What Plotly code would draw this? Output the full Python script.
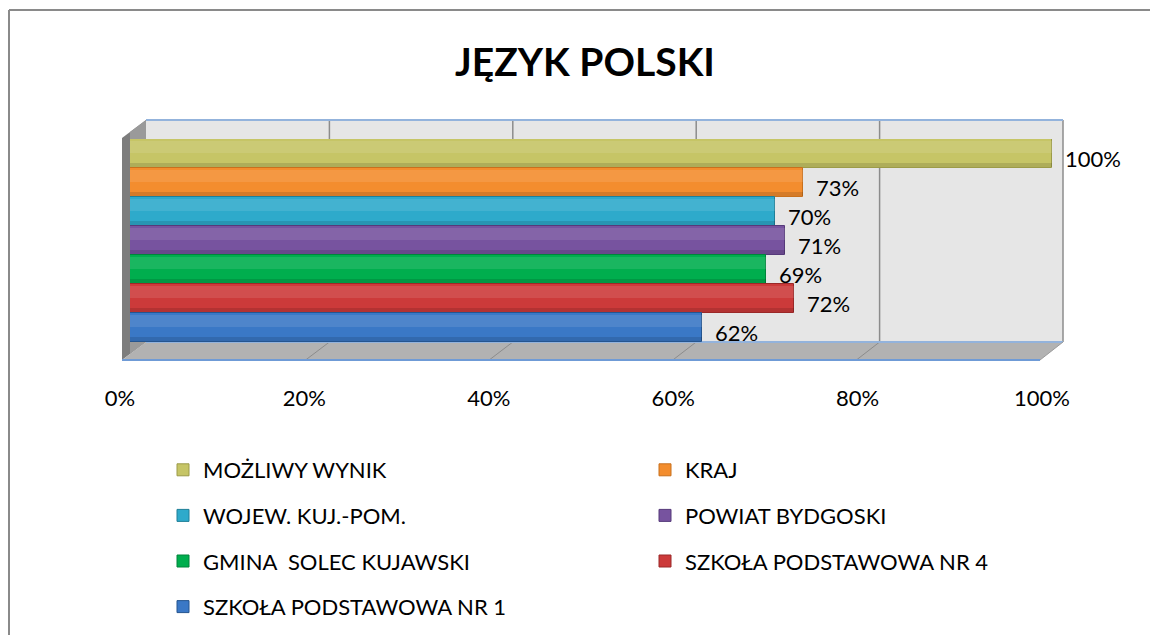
import plotly.graph_objects as go

W, H = 1158, 635
OFF = 8                      # page body margin around the figure
FW, FH = W - OFF, H - OFF    # figure size that fits the window

# ---- data ----
series = ["MOŻLIWY WYNIK", "KRAJ", "WOJEW. KUJ.-POM.", "POWIAT BYDGOSKI",
          "GMINA  SOLEC KUJAWSKI", "SZKOŁA PODSTAWOWA NR 4", "SZKOŁA PODSTAWOWA NR 1"]
values = [100, 73, 70, 71, 69, 72, 62]
bar_colors = ["#c6c566", "#f38d2e", "#2eaacb", "#77539f", "#00ae4e", "#cc3a3a", "#3a78c6"]
edge_colors = ["#9c9b48", "#c8701d", "#1f7f98", "#563a7a", "#00843b", "#9a2828", "#25558f"]
tick_vals = [0, 20, 40, 60, 80, 100]
tick_text = ["0%", "20%", "40%", "60%", "80%", "100%"]
title_text = "JĘZYK POLSKI"

FONT = "Lato"


def fx(px):
    return (px - OFF) / FW


def fy(py):
    return 1 - (py - OFF) / FH


fig = go.Figure()

left_col = [0, 2, 4, 6]
for i, (name, v) in enumerate(zip(series, values)):
    fig.add_trace(go.Bar(
        x=[v], y=[name], orientation="h", name=name,
        marker=dict(color=bar_colors[i], line=dict(color=edge_colors[i], width=1)),
        legendgroup=f"g{i}",
        legend="legend" if i in left_col else "legend2",
        hoverinfo="skip",
    ))
# soft cylinder-like shading: light upper part, darker lower edge
for i, (name, v) in enumerate(zip(series, values)):
    fig.add_trace(go.Bar(x=[v], y=[name], orientation="h", width=0.42, offset=0.02,
                         marker=dict(color="rgba(255,255,255,0.10)", line=dict(width=0)),
                         showlegend=False, hoverinfo="skip"))
    fig.add_trace(go.Bar(x=[v], y=[name], orientation="h", width=0.16, offset=-0.48,
                         marker=dict(color="rgba(0,0,0,0.12)", line=dict(width=0)),
                         showlegend=False, hoverinfo="skip"))

# invisible helper so that the tick-label axis is drawn
fig.add_trace(go.Scatter(x=[0], y=[series[0]], xaxis="x2", yaxis="y", mode="markers",
                         marker=dict(opacity=0, size=1), showlegend=False, hoverinfo="skip"))

# data labels
for i, (name, v) in enumerate(zip(series, values)):
    fig.add_annotation(x=v, y=name, xref="x", yref="y", text=f"{v}%", showarrow=False,
                       xanchor="left", yanchor="middle", xshift=11, yshift=-5,
                       font=dict(family=FONT, size=22, color="#000000"))

# ---- 3D frame shapes ----
back_l, back_r, back_t, back_b = 146, 1063, 120, 342
front_l, front_r, front_b = 122, 1040, 360
side_top_front = 138

shapes = []
# outer border (top and left edges visible, rest runs off the picture)
shapes.append(dict(type="line", xref="paper", yref="paper", x0=fx(9), x1=1, y0=fy(10), y1=fy(10),
                   line=dict(color="#8a8a8a", width=2), layer="below"))
shapes.append(dict(type="line", xref="paper", yref="paper", x0=fx(9), x1=fx(9), y0=fy(10), y1=0,
                   line=dict(color="#8a8a8a", width=2), layer="below"))
# back wall
shapes.append(dict(type="rect", xref="paper", yref="paper", x0=fx(back_l), x1=fx(back_r), y0=fy(back_b), y1=fy(back_t),
                   line=dict(width=0), fillcolor="#e6e6e6", layer="below"))
# side wall
shapes.append(dict(type="path", xref="paper", yref="paper",
                   path=f"M{fx(front_l)},{fy(side_top_front)} L{fx(back_l)},{fy(back_t)} L{fx(back_l)},{fy(back_b)} L{fx(front_l)},{fy(front_b)} Z",
                   line=dict(width=0), fillcolor="#7d7d7d", layer="below"))
shapes.append(dict(type="path", xref="paper", yref="paper",
                   path=f"M{fx(front_l + 8)},{fy(side_top_front - 6)} L{fx(back_l)},{fy(back_t)} L{fx(back_l)},{fy(back_b)} L{fx(front_l + 8)},{fy(front_b - 6)} Z",
                   line=dict(width=0), fillcolor="#9a9a9a", layer="below"))
# floor
shapes.append(dict(type="path", xref="paper", yref="paper",
                   path=f"M{fx(front_l)},{fy(front_b)} L{fx(back_l)},{fy(back_b)} L{fx(back_r)},{fy(back_b)} L{fx(front_r)},{fy(front_b)} Z",
                   line=dict(width=0), fillcolor="#b2b2b2", layer="below"))
# back-wall grid lines and floor diagonals, following the tick values
for t in tick_vals[1:]:
    xb = back_l + (back_r - back_l) * t / 100
    xf = front_l + (front_r - front_l) * t / 100
    shapes.append(dict(type="line", xref="paper", yref="paper", x0=fx(xb), y0=fy(back_b), x1=fx(xb), y1=fy(back_t),
                       line=dict(color="#8c8c8c", width=1.5), layer="below"))
    if t < 100:
        shapes.append(dict(type="line", xref="paper", yref="paper", x0=fx(xb), y0=fy(back_b), x1=fx(xf), y1=fy(front_b),
                           line=dict(color="#8c8c8c", width=1), layer="below"))
# edges
shapes.append(dict(type="line", xref="paper", yref="paper", x0=fx(back_l), x1=fx(back_r), y0=fy(back_t), y1=fy(back_t),
                   line=dict(color="#93b3dc", width=2), layer="below"))
shapes.append(dict(type="line", xref="paper", yref="paper", x0=fx(back_l), x1=fx(back_r), y0=fy(back_b), y1=fy(back_b),
                   line=dict(color="#93b3dc", width=2), layer="below"))
shapes.append(dict(type="line", xref="paper", yref="paper", x0=fx(front_l), x1=fx(front_r), y0=fy(front_b), y1=fy(front_b),
                   line=dict(color="#6f9bd6", width=2), layer="below"))
shapes.append(dict(type="line", xref="paper", yref="paper", x0=fx(back_r), x1=fx(front_r), y0=fy(back_b), y1=fy(front_b),
                   line=dict(color="#9a9a9a", width=1), layer="below"))

legend_font = dict(family=FONT, size=22, color="#000000")

fig.update_layout(
    width=FW, height=FH,
    margin=dict(l=0, r=0, t=0, b=0, autoexpand=False),
    paper_bgcolor="white", plot_bgcolor="rgba(0,0,0,0)",
    barmode="overlay", bargap=0,
    font=dict(family=FONT, color="#000000"),
    title=dict(text=title_text, x=fx(585), y=fy(62), xanchor="center", yanchor="middle",
               font=dict(family=FONT, size=39, color="#000000", weight="bold")),
    xaxis=dict(domain=[fx(130), fx(1052)], range=[0, 100], visible=False, fixedrange=True),
    yaxis=dict(domain=[fy(342), fy(139)], type="category",
               categoryorder="array", categoryarray=list(reversed(series)),
               range=[-0.5, len(series) - 0.5], autorange=False,
               visible=False, fixedrange=True),
    xaxis2=dict(domain=[fx(120), fx(1042)], range=[0, 100], anchor="free", position=fy(383),
                tickmode="array", tickvals=tick_vals, ticktext=tick_text,
                showgrid=False, zeroline=False, showline=False, ticks="",
                tickfont=dict(family=FONT, size=22, color="#000000"), fixedrange=True),
    legend=dict(x=fx(163), y=fy(449), xanchor="left", yanchor="top", orientation="v",
                font=legend_font, tracegroupgap=14,
                bgcolor="rgba(0,0,0,0)", traceorder="grouped"),
    legend2=dict(x=fx(645), y=fy(449), xanchor="left", yanchor="top", orientation="v",
                 font=legend_font, tracegroupgap=14,
                 bgcolor="rgba(0,0,0,0)", traceorder="grouped"),
    shapes=shapes,
    showlegend=True,
)

fig.write_html("out.html")
